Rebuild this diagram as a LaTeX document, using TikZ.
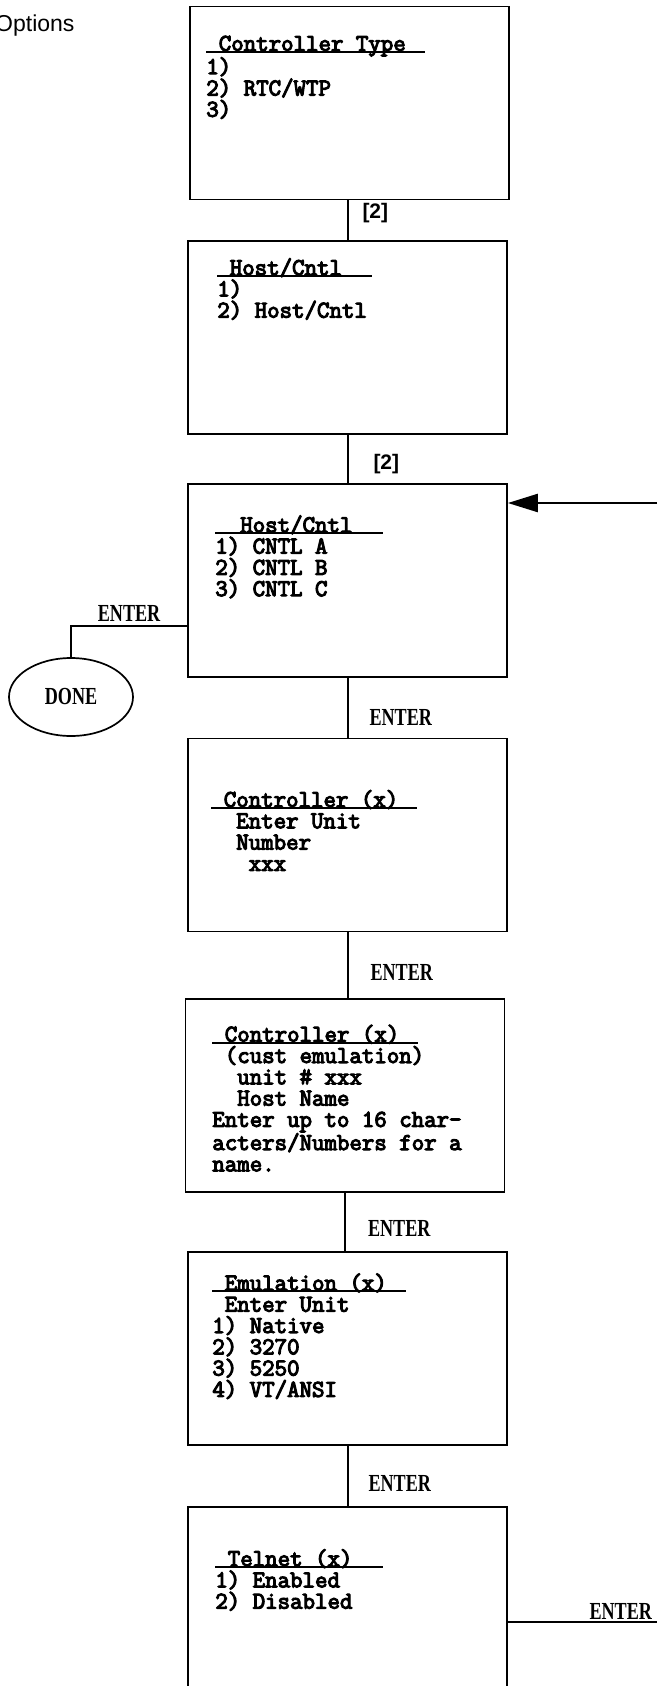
\documentclass[tikz,border=0pt]{standalone}
\usepackage{fontspec}
\newfontfamily\tagfont{Liberation Serif}[FakeStretch=0.74]
\newfontfamily\keyfont{Liberation Sans}
\font\scrfont="[lmmono12-regular]:embolden=4.5" at 24.2pt
\usetikzlibrary{shapes.geometric,arrows.meta,positioning}

% underlined screen heading: width of the rule, then the text
\newcommand\hd[2]{\rlap{\rule[-2pt]{#1pt}{2pt}}\rule{0pt}{18pt}#2}

\begin{document}
\begin{tikzpicture}[
    x=1pt, y=-1pt,
    screen/.style={rectangle, draw=black, line width=1.7pt, minimum width=319pt, minimum height=193pt, inner sep=0pt},
    menu/.style={align=left, inner sep=0pt, font={\scrfont\baselineskip=21.3pt}},
    done/.style={ellipse, draw=black, line width=1.7pt, minimum width=124pt, minimum height=78pt, inner sep=0pt, font=\tagfont\bfseries\fontsize{24.5}{24.5}\selectfont},
    link/.style={line width=2pt},
    tag/.style={inner sep=0pt, font=\tagfont\bfseries\fontsize{24.5}{24.5}\selectfont},
    pick/.style={inner sep=0pt, font=\keyfont\bfseries\fontsize{21}{21}\selectfont}
]
    \useasboundingbox (0,0) rectangle (657,1686);

    % Title (cut at the left edge)
    \node[anchor=base west, inner sep=0pt, font=\keyfont\fontsize{23}{23}\selectfont] (title) at (-5,32) {Options};

    % Screens (top to bottom)
    \node[screen] (ctype) at (349.5,103) {};
    \node[screen, below=39.5pt of ctype, xshift=-2pt] (hostsel) {};
    \node[screen, below=48.5pt of hostsel] (cntlsel) {};
    \node[screen, below=60pt of cntlsel] (unitnum) {};
    \node[screen, below=66pt of unitnum, xshift=-2.5pt] (hostname) {};
    \node[screen, below=58pt of hostname, xshift=2.5pt] (emul) {};
    \node[screen, below=60pt of emul] (telnet) {};

    % Screen texts
    \node[menu, below right=27pt and 17pt of ctype.north west] (ctypetxt) {\hd{219}{~Controller~Type}\\1)\\2)~RTC/WTP\\3)};
    \node[menu, below right=17pt and 30pt of hostsel.north west] (hostseltxt) {\hd{155}{~Host/Cntl}\\1)\\2)~Host/Cntl};
    \node[menu, below right=31pt and 28pt of cntlsel.north west] (cntlseltxt) {\hd{168}{~~Host/Cntl}\\1)~CNTL~A\\2)~CNTL~B\\3)~CNTL~C};
    \node[menu, below right=51pt and 24pt of unitnum.north west] (unitnumtxt) {\hd{206}{~Controller~(x)}\\~~Enter~Unit\\~~Number\\~~~xxx};
    \node[menu, below right=25pt and 27.5pt of hostname.north west] (hostnametxt) {\hd{206}{~Controller~(x)}\\~(cust~emulation)\\~~unit~\#~xxx\\~~Host~Name\\Enter~up~to~16~char-\\acters/Numbers~for~a\\name.};
    \node[menu, below right=21pt and 25pt of emul.north west] (emultxt) {\hd{194}{~Emulation~(x)}\\~Enter~Unit\\1)~Native\\2)~3270\\3)~5250\\4)~VT/ANSI};
    \node[menu, below right=42pt and 28pt of telnet.north west] (telnettxt) {\hd{168}{~Telnet~(x)}\\1)~Enabled\\2)~Disabled};

    % Exit
    \node[done] (done) at (71,697) {DONE};

    % Screen to screen
    \draw[link] (hostsel.north |- ctype.south) -- node[pick, right=14pt, pos=0.33] {[2]} (hostsel.north);
    \draw[link] (hostsel.south) -- node[pick, right=25pt, pos=0.6] {[2]} (hostsel.south |- cntlsel.north);
    \draw[link] (cntlsel.south) -- node[tag, right=21pt, pos=0.67] {ENTER} (cntlsel.south |- unitnum.north);
    \draw[link] (unitnum.south) -- node[tag, right=22pt, pos=0.6] {ENTER} (unitnum.south |- hostname.north);
    \draw[link] (hostname.south) -- node[tag, right=22pt, pos=0.61] {ENTER} (hostname.south |- emul.north);
    \draw[link] (emul.south) -- node[tag, right=20pt, pos=0.62] {ENTER} (emul.south |- telnet.north);

    % Back into the controller list
    \coordinate (back) at (657,503);
    \draw[line width=2.4pt, -{Triangle[length=30pt,width=18pt]}] (back) -- (back -| cntlsel.east);

    % Out to DONE
    \coordinate (quit) at ([yshift=-45.5pt]cntlsel.west);
    \draw[link] (quit) -| node[tag, pos=0.25, anchor=base, yshift=4pt] {ENTER} (done.north);

    % On to the next page
    \coordinate (onward) at (657,1622);
    \draw[link] (telnet.east |- onward) -- node[tag, pos=1, anchor=base east, xshift=-4pt, yshift=3pt] {ENTER} (onward);

\end{tikzpicture}
\end{document}
